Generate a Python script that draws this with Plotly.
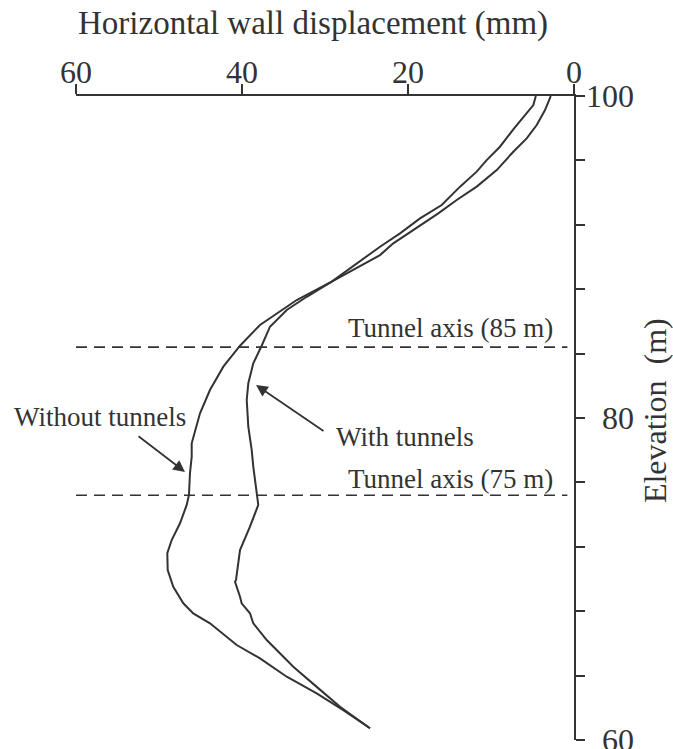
import plotly.graph_objects as go

# ---- data ----
elev_without = [100, 99.13, 98.2, 97.37, 96.54, 95.40, 94.37, 93.54, 92.71, 91.68, 90.85, 90.12,
                88.47, 87.33, 86.50, 85.78, 84.49, 83.19, 81.74, 80.29, 78.43, 77.60, 76.56, 75.22,
                74.60, 73.46, 72.42, 71.60, 70.56, 69.52, 68.49, 67.86, 67.25, 66.21, 65.90, 65.07,
                63.93, 62.90, 61.86, 60.73]
disp_without = [2.8, 3.49, 4.49, 5.70, 7.31, 9.31, 11.72, 14.13, 16.35, 19.36, 21.77, 23.37,
                29.19, 33.41, 35.82, 37.83, 40.24, 42.25, 43.86, 45.06, 46.06, 46.06, 46.27, 46.39,
                46.66, 47.47, 48.47, 49.00, 48.95, 48.28, 47.07, 45.87, 43.86, 41.45, 40.64, 37.83,
                34.61, 31.00, 27.80, 24.58]

elev_with = [100, 99.44, 98.93, 97.93, 96.85, 96.02, 95.30, 94.37, 93.23, 92.40, 91.47, 90.64,
             88.47, 87.53, 86.71, 85.67, 84.49, 83.40, 82.16, 81.12, 79.46, 78.01, 76.98, 75.53,
             74.60, 73.25, 71.80, 69.94, 69.83, 68.90, 68.49, 67.87, 67.25, 66.21, 66.00, 64.55,
             63.30, 62.06, 60.73]
disp_with = [4.6, 4.90, 5.70, 7.31, 8.92, 10.52, 11.72, 13.73, 15.94, 18.55, 20.96, 23.37,
             29.19, 32.20, 34.61, 36.63, 37.63, 38.64, 39.24, 39.43, 39.24, 38.83, 38.64, 38.23,
             38.04, 39.04, 40.24, 40.72, 40.84, 40.24, 40.04, 39.04, 38.64, 37.02, 36.63, 33.82,
             31.00, 28.19, 24.58]

tunnel_elev = [84.4, 75.2]
tunnel_labels = ["Tunnel axis (85 m)", "Tunnel axis (75 m)"]
tunnel_x = [60, 0.8]

x_ticks = [0, 20, 40, 60]
y_ticks = [60, 64, 68, 72, 76, 80, 84, 88, 92, 96, 100]
y_labels = [60, 80, 100]

FONT = "Liberation Serif, Times New Roman, serif"
INK = "#333333"

fig = go.Figure()
fig.add_trace(go.Scatter(x=disp_without, y=elev_without, mode="lines",
                         line=dict(color=INK, width=2), name="Without tunnels"))
fig.add_trace(go.Scatter(x=disp_with, y=elev_with, mode="lines",
                         line=dict(color=INK, width=2), name="With tunnels"))
for e in tunnel_elev:
    fig.add_trace(go.Scatter(x=tunnel_x, y=[e, e], mode="lines",
                             line=dict(color=INK, width=1.6, dash="11px,7px")))

ann = []
# tunnel labels
label_y = [85.6, 76.2]
for t, yy in zip(tunnel_labels, label_y):
    ann.append(dict(x=2.3, y=yy, xref="x", yref="y", text=t, showarrow=False,
                    xanchor="right", yanchor="middle", font=dict(size=27, family=FONT, color=INK)))
# series labels with arrows
ann.append(dict(x=-0.1285, y=0.5016, xref="paper", yref="paper", text="Without tunnels", showarrow=False,
                xanchor="left", yanchor="middle", font=dict(size=27, family=FONT, color=INK)))
ann.append(dict(x=20.4, y=78.8, xref="x", yref="y", text="With tunnels", showarrow=False,
                xanchor="center", yanchor="middle", font=dict(size=27, family=FONT, color=INK)))
ann.append(dict(x=46.87, y=76.65, ax=52.65, ay=78.94, xref="x", yref="y", axref="x", ayref="y",
                text="", showarrow=True, arrowhead=2, arrowsize=1.3, arrowwidth=1.8, arrowcolor=INK))
ann.append(dict(x=38.31, y=82.05, ax=30.0, ay=79.13, xref="x", yref="y", axref="x", ayref="y",
                text="", showarrow=True, arrowhead=2, arrowsize=1.3, arrowwidth=1.8, arrowcolor=INK))
# x tick labels (above the top axis)
for v in x_ticks:
    ann.append(dict(x=v, y=1.0365, xref="x", yref="paper", text=str(v), showarrow=False,
                    xanchor="center", yanchor="middle", font=dict(size=32, family=FONT, color=INK)))
# y tick labels (right aligned)
for v in y_labels:
    ann.append(dict(x=1.1245, y=v, xref="paper", yref="y", text=str(v), showarrow=False,
                    xanchor="right", yanchor="middle", font=dict(size=32, family=FONT, color=INK)))
# axis titles
ann.append(dict(x=0.475, y=1.112, xref="paper", yref="paper", text="Horizontal wall displacement (mm)",
                showarrow=False, xanchor="center", yanchor="middle",
                font=dict(size=33, family=FONT, color=INK)))
ann.append(dict(x=1.163, y=0.511, xref="paper", yref="paper", text="Elevation\u00a0\u00a0(m)",
                showarrow=False, xanchor="center", yanchor="middle", textangle=-90,
                font=dict(size=32, family=FONT, color=INK)))

fig.update_layout(
    width=673, height=749,
    margin=dict(l=76, r=99, t=96, b=9),
    paper_bgcolor="white", plot_bgcolor="white",
    showlegend=False,
    annotations=ann,
    xaxis=dict(range=[60, 0], side="top", showline=True, linecolor=INK, linewidth=2,
               ticks="outside", ticklen=10, tickwidth=2, tickcolor=INK,
               tickvals=x_ticks, showticklabels=False,
               showgrid=False, zeroline=False),
    yaxis=dict(range=[60, 100], side="right", showline=True, linecolor=INK, linewidth=2,
               ticks="outside", ticklen=9, tickwidth=2, tickcolor=INK,
               tickvals=y_ticks, showticklabels=False,
               showgrid=False, zeroline=False),
)

fig.write_html("out.html")
